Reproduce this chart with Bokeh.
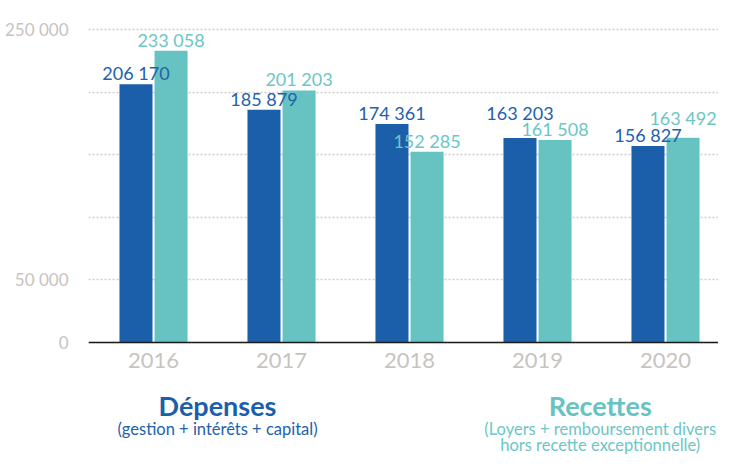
from bokeh.plotting import figure
from bokeh.models import FixedTicker, Label, ColumnDataSource, Range1d
from bokeh.transform import dodge
from bokeh.embed import file_html
from bokeh.resources import INLINE
from bokeh.core.properties import value

# ---- data ----
years = ["2016", "2017", "2018", "2019", "2020"]
depenses = [206170, 185879, 174361, 163203, 156827]
recettes = [233058, 201203, 152285, 161508, 163492]
y_ticks = [0, 50000, 100000, 150000, 200000, 250000]
y_tick_labels = ["0", "50 000", "", "", "", "250 000"]
dep_title = "Dépenses"
dep_sub = "(gestion + intérêts + capital)"
rec_title = "Recettes"
rec_sub1 = "(Loyers + remboursement divers"
rec_sub2 = "hors recette exceptionnelle)"

# ---- style ----
FONT = "Lato"
DARK = "#1b5fab"
TEAL = "#67c3c2"
DARK_TXT = "#2261ad"
TEAL_TXT = "#6cc6c5"
GREY = "#c8c3bf"

Y0, Y1 = -91600, 254000
FRAME_H = 456 - 24
UNITS_PER_PX = (Y1 - Y0) / FRAME_H
MIN_SEP_PX = 16.5  # keep paired value labels from overlapping


def fmt(v):
    return f"{v:,}".replace(",", " ")


dep_off, rec_off = [], []
for d, r in zip(depenses, recettes):
    diff_px = abs(d - r) / UNITS_PER_PX
    lift = max(0.0, MIN_SEP_PX - diff_px)
    if d >= r:
        dep_off.append(-lift)
        rec_off.append(0.0)
    else:
        dep_off.append(0.0)
        rec_off.append(-lift)

xs = list(range(len(years)))
src = ColumnDataSource(dict(
    x=xs,
    dep=depenses,
    rec=recettes,
    dep_lbl=[fmt(v) for v in depenses],
    rec_lbl=[fmt(v) for v in recettes],
    dep_off=dep_off,
    rec_off=rec_off,
))

p = figure(width=718, height=456, output_backend="svg", toolbar_location=None,
           x_range=Range1d(-0.508, 4.414), y_range=Range1d(Y0, Y1),
           min_border_left=88, min_border_right=0, min_border_top=24,
           min_border_bottom=0)
p.outline_line_color = None
p.background_fill_color = "white"

off = 0.137
bw = 0.258
p.vbar(x=dodge("x", -off, range=p.x_range), top="dep", bottom=0, width=bw,
       source=src, fill_color=DARK, line_color=None)
p.vbar(x=dodge("x", off, range=p.x_range), top="rec", bottom=0, width=bw,
       source=src, fill_color=TEAL, line_color=None)

p.text(x=dodge("x", -off, range=p.x_range), y="dep", text="dep_lbl", source=src,
       text_align="center", text_baseline="bottom", y_offset="dep_off",
       text_font=value(FONT), text_font_size="18px", text_color=DARK_TXT)
p.text(x=dodge("x", off, range=p.x_range), y="rec", text="rec_lbl", source=src,
       text_align="center", text_baseline="bottom", y_offset="rec_off",
       text_font=value(FONT), text_font_size="18px", text_color=TEAL_TXT)

# x axis at zero
xa = p.xaxis[0]
xa.ticker = FixedTicker(ticks=xs)
xa.major_label_overrides = {i: y for i, y in zip(xs, years)}
xa.fixed_location = 0
xa.axis_line_color = "#1a1a1a"
xa.axis_line_width = 1.5
xa.major_tick_line_color = None
xa.minor_tick_line_color = None
xa.major_label_text_font = FONT
xa.major_label_text_font_size = "22px"
xa.major_label_text_color = GREY
xa.major_label_standoff = 5

ya = p.yaxis[0]
ya.ticker = FixedTicker(ticks=y_ticks)
ya.major_label_overrides = {t: l for t, l in zip(y_ticks, y_tick_labels)}
ya.axis_line_color = None
ya.major_tick_line_color = None
ya.minor_tick_line_color = None
ya.major_label_text_font = FONT
ya.major_label_text_font_size = "17px"
ya.major_label_text_color = GREY
ya.major_label_standoff = 14

p.xgrid.visible = False
p.ygrid.grid_line_color = "#cccccc"
p.ygrid.grid_line_dash = "2 2"
p.ygrid.grid_line_width = 1.3

labels = [
    (0.5, -64000, dep_title, DARK, "27px", "bold"),
    (0.5, -77400, dep_sub, DARK_TXT, "16.5px", "normal"),
    (3.49, -64000, rec_title, TEAL, "27px", "bold"),
    (3.49, -77400, rec_sub1, TEAL_TXT, "16.5px", "normal"),
    (3.49, -90200, rec_sub2, TEAL_TXT, "16.5px", "normal"),
]
for lx, ly, t, c, s, st in labels:
    p.add_layout(Label(x=lx, y=ly, text=t, text_color=c, text_font=FONT,
                       text_font_size=s, text_font_style=st,
                       text_align="center", text_baseline="bottom"))

open("out.html", "w").write(file_html(p, INLINE))
